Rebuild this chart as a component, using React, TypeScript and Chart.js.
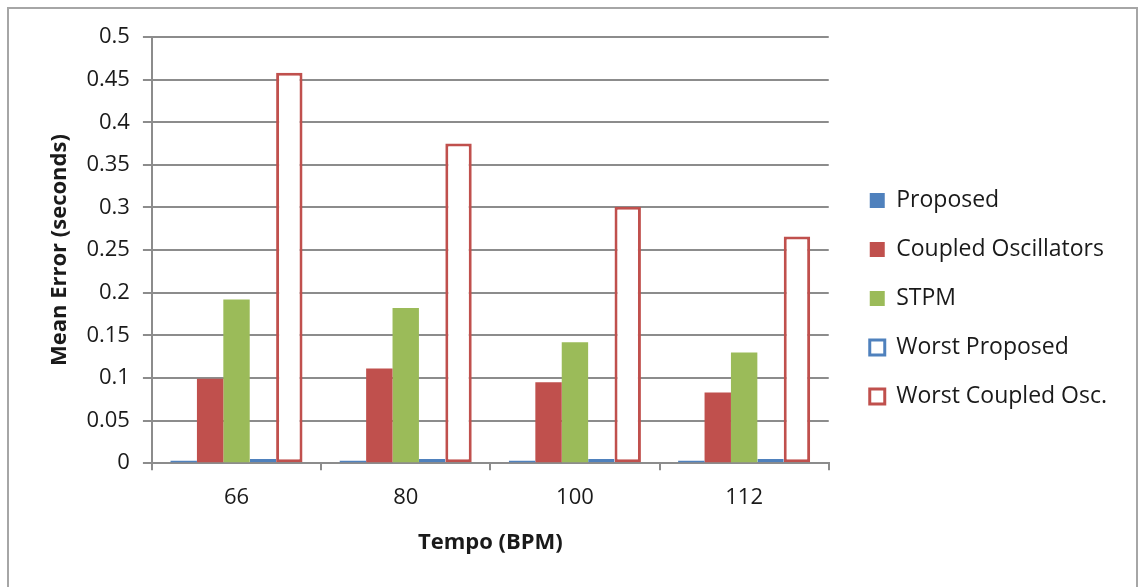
import { useEffect, useRef } from 'react';
import { Chart, registerables } from 'chart.js';

Chart.register(...registerables);

// Tempo categories (BPM)
const tempos = ['66', '80', '100', '112'];

// Mean error per method, in seconds
const proposed = [0.003, 0.003, 0.003, 0.003];
const coupledOscillators = [0.099, 0.111, 0.095, 0.083];
const stpm = [0.192, 0.182, 0.142, 0.13];
const worstProposed = [0.005, 0.005, 0.005, 0.005];
const worstCoupledOsc = [0.458, 0.375, 0.301, 0.266];

// Value axis tick labels
const yTickLabels = ['0', '0.05', '0.1', '0.15', '0.2', '0.25', '0.3', '0.35', '0.4', '0.45', '0.5'];

const BLUE = '#4F81BD';
const RED = '#C0504D';
const GREEN = '#9BBB59';
const GRID = '#8c8c8c';
const TEXT = '#1a1a1a';
const FONT = '"Open Sans", sans-serif';

// Nudges the legend column to the right of the plot area
const legendShift = {
  id: 'legendShift',
  afterLayout(chart: any) {
    const lg = chart.legend;
    if (lg) {
      lg.left += 15;
      lg.right += 15;
    }
  },
};

export default function App() {
  const canvasRef = useRef<HTMLCanvasElement>(null);

  useEffect(() => {
    if (!canvasRef.current) return;
    const chart = new Chart(canvasRef.current, {
      type: 'bar',
      data: {
        labels: tempos,
        datasets: [
          { label: 'Proposed', data: proposed, backgroundColor: BLUE, borderWidth: 0 },
          { label: 'Coupled Oscillators', data: coupledOscillators, backgroundColor: RED, borderWidth: 0 },
          { label: 'STPM', data: stpm, backgroundColor: GREEN, borderWidth: 0 },
          {
            label: 'Worst Proposed',
            data: worstProposed,
            backgroundColor: '#ffffff',
            borderColor: BLUE,
            borderWidth: 3,
            borderSkipped: false,
          },
          {
            label: 'Worst Coupled Osc.',
            data: worstCoupledOsc,
            backgroundColor: '#ffffff',
            borderColor: RED,
            borderWidth: 3,
            borderSkipped: false,
          },
        ],
      },
      options: {
        animation: false,
        responsive: true,
        maintainAspectRatio: false,
        layout: { padding: { top: 28, bottom: 27, left: 30, right: 44 } },
        datasets: {
          bar: { categoryPercentage: 0.78, barPercentage: 1 },
        },
        plugins: {
          tooltip: { enabled: false },
          legend: {
            position: 'right',
            labels: {
              boxWidth: 15,
              boxHeight: 15,
              padding: 26,
              color: TEXT,
              font: { family: FONT, size: 23 },
              generateLabels: (chart: any) =>
                chart.data.datasets.map((ds: any, i: number) => ({
                  text: ds.label,
                  fillStyle: ds.backgroundColor,
                  strokeStyle: ds.borderColor || ds.backgroundColor,
                  lineWidth: ds.borderWidth ? 3 : 0,
                  fontColor: TEXT,
                  hidden: false,
                  datasetIndex: i,
                })),
            },
          },
        },
        scales: {
          x: {
            offset: true,
            grid: {
              offset: true,
              drawOnChartArea: false,
              drawTicks: true,
              tickLength: 7,
              color: GRID,
              lineWidth: 2,
            },
            border: { display: true, color: GRID, width: 2 },
            ticks: { color: TEXT, padding: 14, font: { family: FONT, size: 22 } },
            title: {
              display: true,
              text: 'Tempo (BPM)',
              color: TEXT,
              padding: { top: 5, bottom: 4 },
              font: { family: FONT, size: 22, weight: 'bold' },
            },
          },
          y: {
            min: 0,
            max: 0.5,
            grid: { color: GRID, lineWidth: 2, tickLength: 9 },
            border: { display: true, color: GRID, width: 2 },
            ticks: {
              stepSize: 0.05,
              padding: 13,
              color: TEXT,
              font: { family: FONT, size: 22 },
              callback: (_v: any, i: number) => yTickLabels[i],
            },
            title: {
              display: true,
              text: 'Mean Error (seconds)',
              color: TEXT,
              padding: { top: 8, bottom: 0 },
              font: { family: FONT, size: 22, weight: 'bold' },
            },
          },
        },
      },
      plugins: [legendShift],
    } as any);
    return () => chart.destroy();
  }, []);

  return (
    <div
      style={{
        position: 'fixed',
        left: 7,
        top: 7,
        width: 1127,
        height: 578,
        borderTop: '2px solid #a6a6a6',
        borderLeft: '2px solid #a6a6a6',
        borderRight: '2px solid #a6a6a6',
        background: '#ffffff',
      }}
    >
      <canvas ref={canvasRef} />
    </div>
  );
}
